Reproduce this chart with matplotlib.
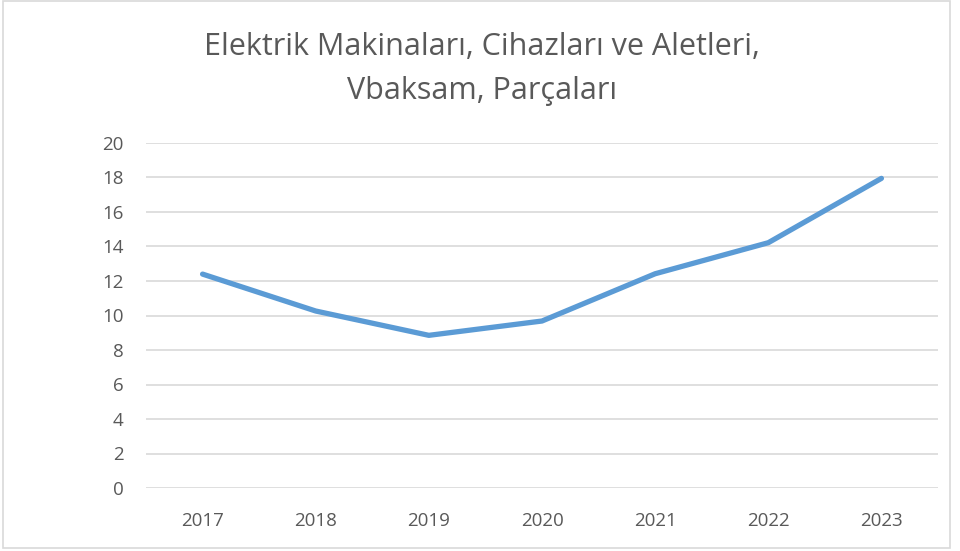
import matplotlib.pyplot as plt
from matplotlib.patches import Rectangle

plt.rcParams['font.family'] = ['Open Sans', 'DejaVu Sans']

years = ['2017', '2018', '2019', '2020', '2021', '2022', '2023']
values = [12.4, 10.26, 8.85, 9.68, 12.42, 14.22, 17.95]
yticks = [0, 2, 4, 6, 8, 10, 12, 14, 16, 18, 20]

fig = plt.figure(figsize=(9.6, 5.51), dpi=100)
ax = fig.add_axes([146 / 960, 1 - 488 / 551, (938 - 146) / 960, (488 - 143) / 551])

ax.plot(range(len(years)), values, color='#5b9bd5', linewidth=3.8,
        solid_capstyle='round', solid_joinstyle='round', zorder=3)

ax.set_xlim(-0.5, len(years) - 0.5)
ax.set_ylim(0, 20)
ax.set_yticks(yticks)
ax.set_xticks(range(len(years)))
ax.set_xticklabels(years)
ax.grid(axis='y', color='#d9d9d9', linewidth=1.2)
ax.set_axisbelow(True)
for s in ax.spines.values():
    s.set_visible(False)
ax.tick_params(length=0, labelsize=13.5, colors='#595959')
ax.tick_params(axis='y', pad=16)
ax.tick_params(axis='x', pad=17)

fig.text(0.502, 1 - 47 / 551, 'Elektrik Makinaları, Cihazları ve Aletleri,',
         ha='center', va='center', fontsize=22, color='#595959')
fig.text(0.502, 1 - 91 / 551, 'Vbaksam, Parçaları',
         ha='center', va='center', fontsize=22, color='#595959')

fig.patches.append(Rectangle((3 / 960, 1 - 548 / 551), 947 / 960, 547 / 551,
                             transform=fig.transFigure, fill=False,
                             edgecolor='#d9d9d9', linewidth=1.2))

plt.savefig('out.png', dpi=100)
